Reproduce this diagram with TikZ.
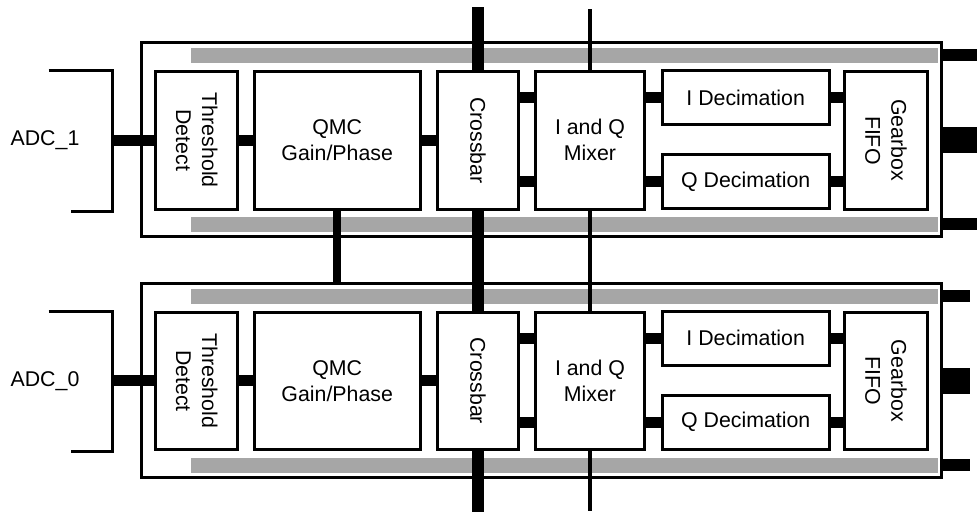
\documentclass[tikz,border=0pt]{standalone}
\usepackage{fontspec}
\setmainfont{Liberation Sans}
\tikzset{
  px/.style={x=0.75pt,y=-0.75pt},
  outerbox/.style={draw, line width=2.25pt, fill=white, inner sep=0pt},
  blk/.style={draw, line width=2.25pt, fill=white, inner sep=0pt},
  txt/.style={inner sep=0pt, align=center, font=\fontsize{16}{19.5}\selectfont},
  graybar/.style={fill=black!35, draw=none},
  bus/.style={line width=8.25pt},
  outbus/.style={line width=8.75pt},
  widebus/.style={line width=19.5pt},
  bracket/.style={line width=2.25pt},
  xbus/.style={line width=9pt},
  qbus/.style={line width=6pt},
  mbus/.style={line width=3pt},
}
\newcommand\adcstage[3]{%
  \node[outerbox, minimum width=600pt, minimum height=145.5pt] (ob#1) at (541.3,139.6) {};
  \fill[graybar] (190.7,48) rectangle (937.7,63);
  \fill[graybar] (190.7,217) rectangle (937.7,232);
  \node[blk, minimum width=61.5pt, minimum height=103.1pt] (td#1) at (196.7,140.3) {};
  \node[txt, rotate=-90] (tdl#1) at (td#1) {Threshold\\Detect};
  \node[blk, minimum width=124.5pt, minimum height=103.1pt] (qmc#1) at (337.2,140.3) {};
  \node[txt] (qmcl#1) at (qmc#1) {QMC\\Gain/Phase};
  \node[blk, minimum width=61pt, minimum height=103.1pt] (cb#1) at (477.9,140.3) {};
  \node[txt, rotate=-90] (cbl#1) at (cb#1) {Crossbar};
  \node[blk, minimum width=81.75pt, minimum height=103.1pt] (mix#1) at (590,140.3) {};
  \node[txt] (mixl#1) at (mix#1) {I and Q\\Mixer};
  \node[blk, minimum width=125.25pt, minimum height=40.3pt] (idec#1) at (745.7,97.7) {};
  \node[txt] (idecl#1) at (idec#1) {I Decimation};
  \node[blk, minimum width=125.25pt, minimum height=40.3pt] (qdec#1) at (745.7,181.7) {};
  \node[txt] (qdecl#1) at (qdec#1) {Q Decimation};
  \node[blk, minimum width=61.8pt, minimum height=103.1pt] (gb#1) at (886,140.3) {};
  \node[txt, rotate=-90] (gbl#1) at (gb#1) {Gearbox\\FIFO};
  % ADC bracket and label
  \draw[bracket] (48.7,70.7) -- (112.7,70.7) -- (112.7,211) -- (71,211);
  \node[txt] (adc#1) at (45,140.5) {#2};
  \coordinate (br#1) at (112.7,140.3);
  % connectors
  \draw[bus] (br#1) -- (td#1.west);
  \draw[bus] (td#1.east) -- (qmc#1.west);
  \draw[bus] (qmc#1.east) -- (cb#1.west);
  \draw[bus] (cb#1.east |- idec#1.west) -- (mix#1.west |- idec#1.west);
  \draw[bus] (cb#1.east |- qdec#1.west) -- (mix#1.west |- qdec#1.west);
  \draw[bus] (mix#1.east |- idec#1.west) -- (idec#1.west);
  \draw[bus] (mix#1.east |- qdec#1.west) -- (qdec#1.west);
  \draw[bus] (idec#1.east) -- (gb#1.west |- idec#1.east);
  \draw[bus] (qdec#1.east) -- (gb#1.west |- qdec#1.east);
  % outputs
  \coordinate (oa#1) at (#3,55.2);
  \coordinate (ob#1end) at (#3,140);
  \coordinate (oc#1) at (#3,224.2);
  \draw[outbus] (ob#1.east |- oa#1) -- (oa#1);
  \draw[widebus] (ob#1.east |- ob#1end) -- (ob#1end);
  \draw[outbus] (ob#1.east |- oc#1) -- (oc#1);
}
\begin{document}
\begin{tikzpicture}[px]
  \useasboundingbox (0,0) rectangle (977,512);
  \begin{scope}
    \adcstage{1}{ADC\_1}{977}
  \end{scope}
  \begin{scope}[yshift=-180.4pt]
    \adcstage{0}{ADC\_0}{970}
  \end{scope}
  % vertical buses
  \coordinate (xtop) at (477.9,7.3);
  \coordinate (xbot) at (477.9,512);
  \coordinate (mtop) at (590,9);
  \coordinate (mbot) at (590,510.7);
  \draw[xbus] (xtop) -- (cb1.north);
  \draw[xbus] (cb1.south) -- (cb0.north);
  \draw[xbus] (cb0.south) -- (xbot);
  \draw[mbus] (mtop) -- (mix1.north);
  \draw[mbus] (mix1.south) -- (mix0.north);
  \draw[mbus] (mix0.south) -- (mbot);
  \draw[qbus] (qmc1.south) -- (qmc1.south |- ob0.north);
\end{tikzpicture}
\end{document}
